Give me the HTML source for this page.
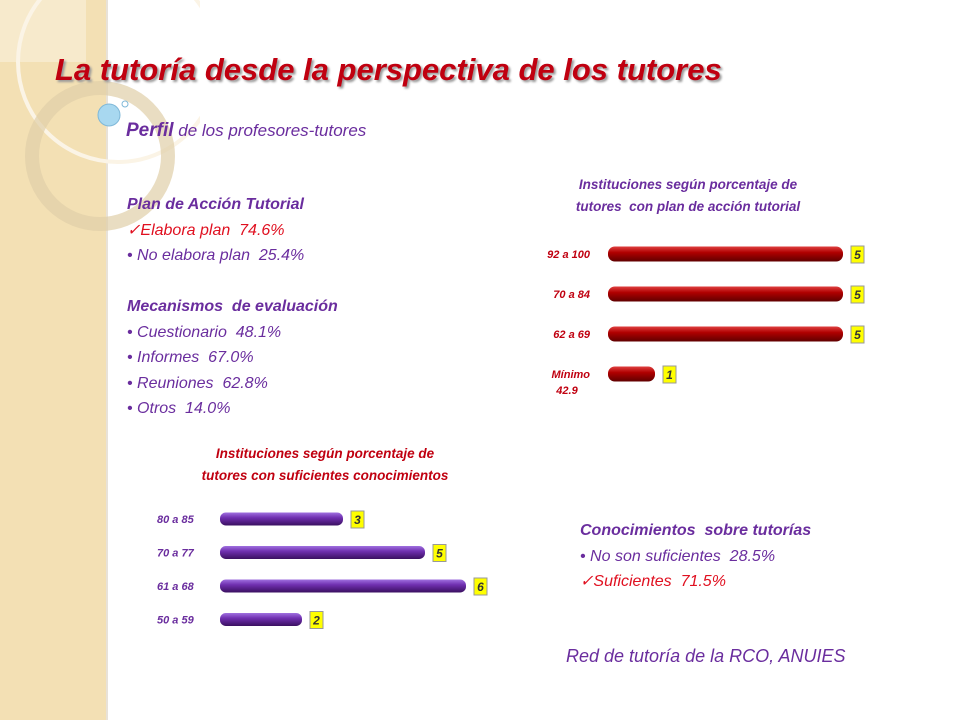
<!DOCTYPE html>
<html><head><meta charset="utf-8"><style>
body{margin:0;width:960px;height:720px;overflow:hidden;background:#fff;font-family:"Liberation Sans",sans-serif;position:relative}
.side{position:absolute;left:0;top:0;width:106px;height:720px;background:#f3e0b4;border-right:2px solid #e8e2d8}
.t{position:absolute;white-space:nowrap;font-style:italic}
.p{color:#6a2d9e}
.r{color:#e01020}
</style></head><body>
<div class="side"></div>
<svg style="position:absolute;left:0;top:0" width="200" height="260">
<rect x="0" y="0" width="86" height="62" fill="#f7ecd2" opacity="0.8"/>
<circle cx="118" cy="62" r="100" fill="none" stroke="#fbf4e6" stroke-width="4"/>
<circle cx="100" cy="156" r="68" fill="none" stroke="#e0cfa8" stroke-width="14" opacity="0.7"/>
<circle cx="109" cy="115" r="11" fill="#a8d8f0" stroke="#7fb8d8"/>
<circle cx="125" cy="104" r="3" fill="#fff" stroke="#7fb8d8"/>
</svg>
<div class="t" style="left:55px;top:52px;font-size:31px;font-weight:bold;color:#c00010;text-shadow:2px 2px 2px #999">La tutoría desde la perspectiva de los tutores</div>
<div class="t p" style="left:126px;top:120px;font-size:17px"><b style="font-size:19px">Perfil</b> de los profesores-tutores</div>
<div class="t p" style="left:127px;top:192px;font-size:16px;line-height:25.5px">
<b style="font-weight:bold">Plan de Acción Tutorial</b><br>
<span class="r">✓Elabora plan&nbsp; 74.6%</span><br>
• No elabora plan&nbsp; 25.4%<br><br>
<b>Mecanismos&nbsp; de evaluación</b><br>
• Cuestionario&nbsp; 48.1%<br>
• Informes&nbsp; 67.0%<br>
• Reuniones&nbsp; 62.8%<br>
• Otros&nbsp; 14.0%</div>
<div class="t p" style="left:580px;top:518px;font-size:16px;line-height:25.5px">
<b>Conocimientos&nbsp; sobre tutorías</b><br>
• No son suficientes&nbsp; 28.5%<br>
<span class="r">✓Suficientes&nbsp; 71.5%</span></div>
<div class="t p" style="left:566px;top:646px;font-size:18px">Red de tutoría de la RCO, ANUIES</div>

<svg id="c1" style="position:absolute;left:0;top:0" width="960" height="720">
<defs>
<linearGradient id="gr" x1="0" y1="0" x2="0" y2="1"><stop offset="0" stop-color="#e04040"/><stop offset="0.4" stop-color="#b00000"/><stop offset="1" stop-color="#600000"/></linearGradient>
<linearGradient id="gp" x1="0" y1="0" x2="0" y2="1"><stop offset="0" stop-color="#a070e0"/><stop offset="0.4" stop-color="#7030b0"/><stop offset="1" stop-color="#3a1060"/></linearGradient>
</defs>
<text x="688" y="189" text-anchor="middle" font-size="13.5" font-weight="bold" font-style="italic" fill="#6a2d9e" font-family="Liberation Sans">Instituciones según porcentaje de</text>
<text x="688" y="211" text-anchor="middle" font-size="13.5" font-weight="bold" font-style="italic" fill="#6a2d9e" font-family="Liberation Sans">tutores&nbsp; con plan de acción tutorial</text>
<text x="325" y="458" text-anchor="middle" font-size="13.5" font-weight="bold" font-style="italic" fill="#c00010" font-family="Liberation Sans">Instituciones según porcentaje de</text>
<text x="325" y="480" text-anchor="middle" font-size="13.5" font-weight="bold" font-style="italic" fill="#c00010" font-family="Liberation Sans">tutores con suficientes conocimientos</text>
<g id="g1"></g><g id="g2"></g>
</svg>
<script>
const cats1=["92  a  100","70  a  84","62  a  69","Mínimo"];
const vals1=[5,5,5,1];
const cats2=["80  a  85","70  a  77","61  a  68","50  a  59"];
const vals2=[3,5,6,2];
const NS="http://www.w3.org/2000/svg";
function mk(t,a,p){const e=document.createElementNS(NS,t);for(const k in a)e.setAttribute(k,a[k]);p.appendChild(e);return e;}
function draw(g,cats,vals,x0,unit,y0,step,h,grad,lblColor,lblX,anchor,fs){
  const G=document.getElementById(g);
  cats.forEach((c,i)=>{
    const y=y0+i*step, w=vals[i]*unit;
    const b=mk('rect',{x:x0,y:y-h/2,width:w,height:h,rx:h/2.2,fill:'url(#'+grad+')'},G);
    
    
    const t=mk('text',{x:lblX,y:y+4,'text-anchor':anchor,'font-size':fs,'font-weight':'bold','font-style':'italic',fill:lblColor,'font-family':'Liberation Sans'},G);
    t.textContent=c;
    
    
    const bx=mk('rect',{x:x0+w+8,y:y-8,width:13,height:17,fill:'#ffff00',stroke:'#999'},G);
    
    
    const v=mk('text',{x:x0+w+14.5,y:y+5,'text-anchor':'middle','font-size':12,'font-weight':'bold','font-style':'italic',fill:'#333','font-family':'Liberation Sans'},G);
    v.textContent=vals[i];
    
    
  });
}
draw('g1',cats1,vals1,608,47,254,40,15,'gr','#c00010',590,'end',11);
draw('g2',cats2,vals2,220,41,519,33.5,13,'gp','#6a2d9e',157,'start',11);
const m=mk('text',{x:567,y:394,'text-anchor':'middle','font-size':11,'font-weight':'bold','font-style':'italic',fill:'#c00010','font-family':'Liberation Sans'},document.getElementById('g1'));
m.textContent="42.9";


</script>
</body></html>
